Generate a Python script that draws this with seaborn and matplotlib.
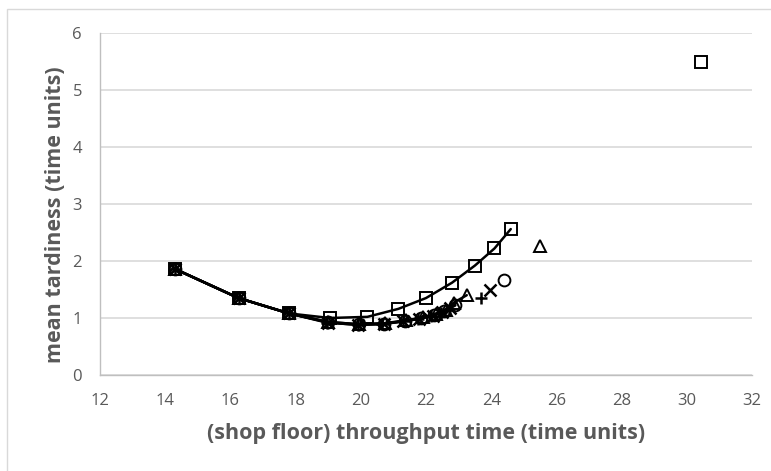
import matplotlib
matplotlib.use("Agg")
import matplotlib.pyplot as plt
import seaborn as sns
import pandas as pd
from matplotlib.patches import Rectangle

# ====================
# DATOS
# ====================
common_x = [14.3, 16.25, 17.8]
common_y = [1.86, 1.35, 1.08]

sq_x = [19.05, 20.2, 21.15, 22.0, 22.8, 23.5, 24.1, 24.6]
sq_y = [1.00, 1.02, 1.16, 1.35, 1.62, 1.92, 2.22, 2.56]

tri_x = [19.0, 19.95, 20.75, 21.4, 21.9, 22.3, 22.6, 22.85, 23.25]
tri_y = [0.93, 0.89, 0.91, 0.96, 1.01, 1.07, 1.14, 1.27, 1.40]

circ_x = [19.0, 19.95, 20.7, 21.35, 21.85, 22.25, 22.55, 22.9]
circ_y = [0.93, 0.89, 0.90, 0.95, 1.00, 1.06, 1.12, 1.22]

cross_x = [19.0, 19.9, 20.7, 21.3, 21.8, 22.2, 22.5, 22.75]
cross_y = [0.92, 0.88, 0.90, 0.94, 0.99, 1.04, 1.10, 1.17]

plus_x = [18.95, 19.9, 20.65, 21.3, 21.75, 22.15, 22.45, 22.7]
plus_y = [0.92, 0.88, 0.89, 0.94, 0.98, 1.03, 1.08, 1.14]

# puntos aislados (sin linea)
out_x = [30.45, 25.5, 24.4, 23.95, 23.7]
out_y = [5.50, 2.26, 1.67, 1.50, 1.35]
out_mk = ["s", "^", "o", "x", "+"]

x_ticks = [12, 14, 16, 18, 20, 22, 24, 26, 28, 30, 32]
y_ticks = [0, 1, 2, 3, 4, 5, 6]

# ====================
# ESTILO
# ====================
sns.set_style("white")
plt.rcParams["font.family"] = ["Open Sans", "DejaVu Sans"]
gray_txt = "#595959"
grid_col = "#d9d9d9"

fig = plt.figure(figsize=(7.71, 4.71), dpi=100)
ax = fig.add_axes([100 / 771, 1 - 375 / 471, 652 / 771, 342 / 471])

# marco exterior
fig.patches.append(Rectangle((7 / 771, -0.01), 1.02, 1 - 9 / 471 + 0.01,
                             transform=fig.transFigure, fill=False,
                             edgecolor="#d9d9d9", linewidth=1.0))

series = [
    (sq_x, sq_y, "s", 9, 1.4),
    (tri_x, tri_y, "^", 9, 1.4),
    (circ_x, circ_y, "o", 8.5, 1.4),
    (cross_x, cross_y, "x", 8, 1.8),
    (plus_x, plus_y, "+", 9, 1.8),
]

for xs, ys, mk, ms, mew in series:
    df = pd.DataFrame({"x": common_x + xs, "y": common_y + ys})
    sns.lineplot(data=df, x="x", y="y", ax=ax, color="black", linewidth=1.8,
                 marker=mk, markersize=ms, markerfacecolor="none",
                 markeredgecolor="black", markeredgewidth=mew, sort=False)

for xv, yv, mk in zip(out_x, out_y, out_mk):
    ms = 9 if mk in ("+", "s", "^") else 8.5
    ax.plot([xv], [yv], linestyle="none", marker=mk, markersize=ms,
            markerfacecolor="none", markeredgecolor="black",
            markeredgewidth=1.8 if mk in ("x", "+") else 1.4)

ax.set_xlim(12, 32)
ax.set_ylim(0, 6)
ax.set_xticks(x_ticks)
ax.set_yticks(y_ticks)
ax.yaxis.grid(True, color=grid_col, linewidth=1.2)
ax.set_axisbelow(True)

for s in ["top", "right"]:
    ax.spines[s].set_visible(False)
for s in ["left", "bottom"]:
    ax.spines[s].set_color("#bfbfbf")
    ax.spines[s].set_linewidth(1.0)

ax.tick_params(axis="both", which="major", direction="out", length=5,
               color="#bfbfbf", labelcolor=gray_txt, labelsize=12)
ax.tick_params(axis="x", pad=8)
ax.tick_params(axis="y", pad=8)

ax.set_xlabel("(shop floor) throughput time (time units)", fontsize=15.5,
              fontweight="bold", color=gray_txt)
ax.set_ylabel("mean tardiness (time units)", fontsize=15.5,
              fontweight="bold", color=gray_txt)
ax.xaxis.set_label_coords(0.5, (375 - 423) / 342)
ax.yaxis.set_label_coords((66 - 100) / 652, 0.47)

fig.savefig("out.png", dpi=100, facecolor="white")
